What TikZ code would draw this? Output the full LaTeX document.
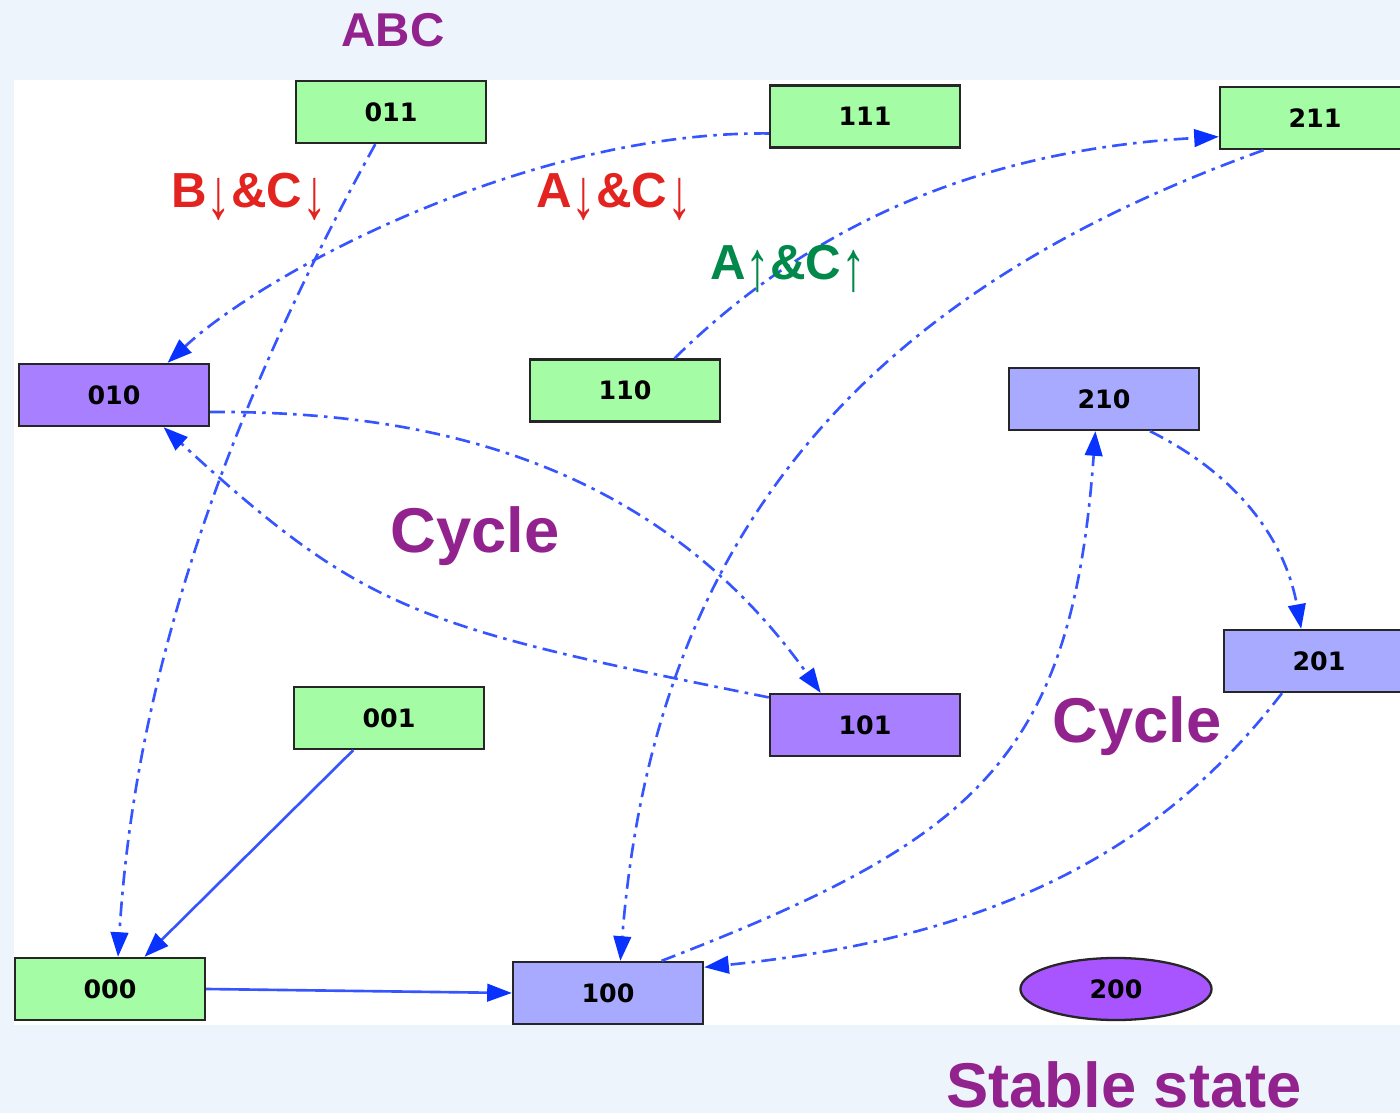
\documentclass[tikz,border=0pt]{standalone}
\usepackage{graphicx}
\usepackage{fontspec}
\setmainfont{Liberation Sans}
\newfontfamily\statefont{DejaVu Sans}
\usetikzlibrary{arrows.meta, shapes.geometric}

\definecolor{backblue}{RGB}{237,244,252}
\definecolor{greenstate}{RGB}{164,252,164}
\definecolor{purplestate}{RGB}{168,128,255}
\definecolor{bluestate}{RGB}{168,170,255}
\definecolor{stablestate}{RGB}{168,85,255}
\definecolor{edgeblue}{RGB}{55,85,255}
\definecolor{tipblue}{RGB}{10,50,255}
\definecolor{labelpurple}{RGB}{146,34,142}
\definecolor{labelred}{RGB}{226,35,31}
\definecolor{labelgreen}{RGB}{0,137,74}

\newcommand{\dn}{{\mdseries\raisebox{-0.22em}{\scalebox{1}[1.45]{↓}}}}
\newcommand{\up}{{\mdseries\raisebox{-0.22em}{\scalebox{1}[1.45]{↑}}}}

\begin{document}
\begin{tikzpicture}[x=0.01cm, y=-0.01cm,
  state/.style={draw=black!85, line width=0.65pt, minimum width=1.9cm, minimum height=0.62cm, inner sep=0pt, font=\statefont\bfseries\fontsize{7.2}{9}\selectfont},
  trans/.style={draw=edgeblue, line width=0.75pt, dash pattern=on 4.2pt off 1.8pt on 1pt off 1.8pt, -{Triangle[length=7pt, width=5pt, color=tipblue]}},
  direct/.style={draw=edgeblue, line width=0.75pt, -{Triangle[length=7pt, width=5pt, color=tipblue]}},
  cond/.style={font=\bfseries\fontsize{14}{16}\selectfont, anchor=base, inner sep=0pt},
  big/.style={font=\bfseries\fontsize{18}{20}\selectfont, text=labelpurple, anchor=base, inner sep=0pt}]
\fill [backblue] (0,0) rectangle (1400,1113);
\fill [white] (14,80) rectangle (1400,1025);
\useasboundingbox (0,0) rectangle (1400,1113);

\node [state, fill=greenstate] (n011) at (391,112) {011};
\node [state, fill=greenstate] (n111) at (865,116.5) {111};
\node [state, fill=greenstate] (n211) at (1315,118) {211};
\node [state, fill=purplestate] (n010) at (114,395) {010};
\node [state, fill=greenstate] (n110) at (625,390.5) {110};
\node [state, fill=bluestate] (n210) at (1104,399) {210};
\node [state, fill=bluestate] (n201) at (1319,661) {201};
\node [state, fill=purplestate] (n101) at (865,725) {101};
\node [state, fill=greenstate] (n001) at (389,718) {001};
\node [state, fill=greenstate] (n000) at (110,989) {000};
\node [state, fill=bluestate] (n100) at (608,993) {100};
\node [state, ellipse, fill=stablestate, minimum width=1.91cm] (n200) at (1116,989) {200};

\draw [trans] (n011.244) .. controls (238,393) and (136,658) .. (n000.76);
\draw [trans] (n111.190) .. controls (530,131) and (265,272) .. (n010.31);
\draw [trans] (n110.33) .. controls (810,225) and (980,150) .. (n211.191);
\draw [trans] (n211.212) .. controls (889,285) and (656,512) .. (n100.69);
\draw [trans] (n010.350) .. controls (409,411) and (648,451) .. (n101.144);
\draw [trans] (n101.164) .. controls (418,627) and (365,612) .. (n010.327);
\draw [trans] (n210.325) .. controls (1248,480) and (1287,550) .. (n201.119);
\draw [trans] (n201.221) .. controls (1164,846) and (1002,937) .. (n100.15);
\draw [trans] (n100.31) .. controls (975,840) and (1072,760) .. (n210.255);
\draw [direct] (n001.222) -- (n000.43);
\draw [direct] (n000.east) -- (n100.west);

\node [cond, text=labelpurple, font=\bfseries\fontsize{13.5}{16}\selectfont] (abc) at (393,47) {ABC};
\node [cond, text=labelred] (bcdown) at (249,208) {B\dn\&C\dn};
\node [cond, text=labelred] (acdown) at (614,208) {A\dn\&C\dn};
\node [cond, text=labelgreen] (acup) at (788,280) {A\up\&C\up};
\node [big] (cycleleft) at (475,553) {Cycle};
\node [big] (cycleright) at (1137,742) {Cycle};
\node [big] (stable) at (1124,1107) {Stable state};
\end{tikzpicture}
\end{document}
